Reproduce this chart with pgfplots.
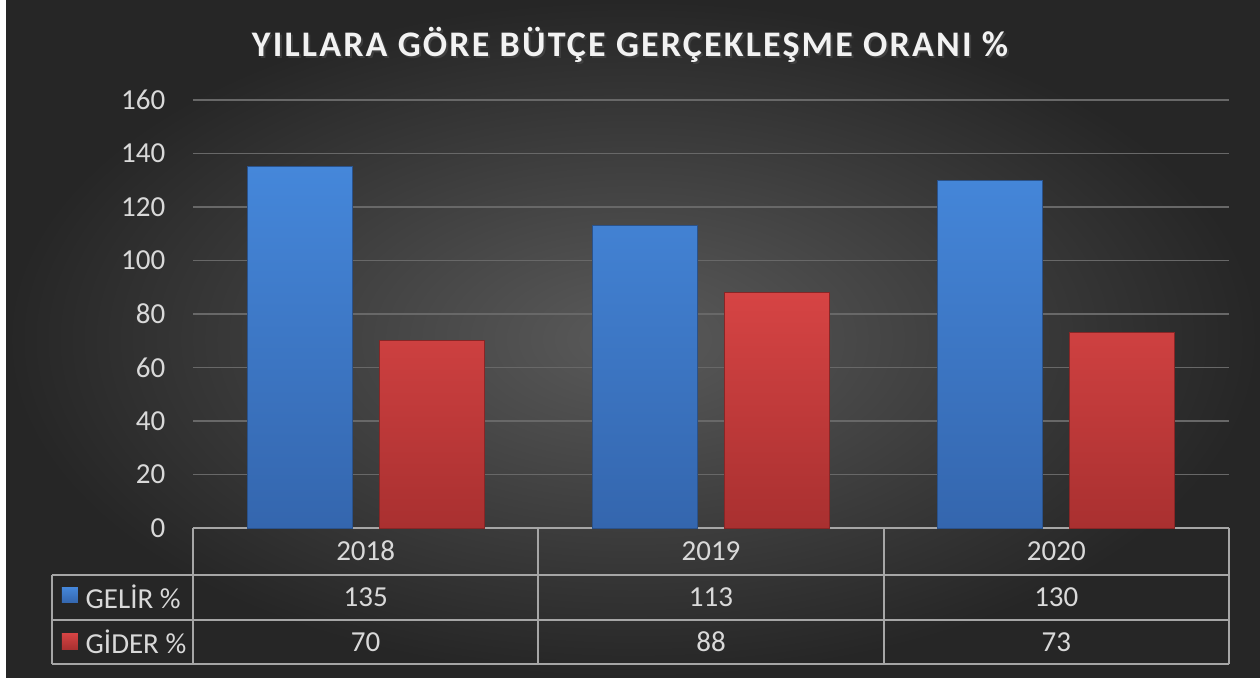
\documentclass[border=0pt]{standalone}
\usepackage{fontspec}
\setmainfont{Carlito}
\usepackage{pgfplots}
\pgfplotsset{compat=1.18}
\definecolor{bgin}{HTML}{5A5A5A}
\definecolor{bgout}{HTML}{262626}
\definecolor{gridc}{HTML}{686868}
\definecolor{txt}{HTML}{D9D9D9}
\definecolor{tline}{HTML}{A6A6A6}
\definecolor{blueT}{HTML}{4587DA}
\definecolor{blueB}{HTML}{3466AE}
\definecolor{redT}{HTML}{D64444}
\definecolor{redB}{HTML}{A93030}
\begin{document}
\begin{tikzpicture}
\useasboundingbox (0pt,0pt) rectangle (630pt,340pt);
\fill[white] (0pt,0pt) rectangle (630pt,340pt);
\shade[inner color=bgin, outer color=bgout] (3pt,1pt) rectangle (630pt,340pt);
\begin{axis}[
  at={(96.5pt,76pt)}, anchor=south west,
  scale only axis, width=518pt, height=214pt,
  xmin=-0.5, xmax=2.5, ymin=0, ymax=160,
  ytick={0,20,...,160},
  xtick=\empty,
  axis x line*=bottom, axis y line*=left,
  y axis line style={draw=none},
  ymajorgrids, grid style={gridc, line width=0.8pt},
  ybar=13.5pt, bar width=52.5pt,
  yticklabel style={font=\fontsize{14.5}{16}\selectfont, text=txt, xshift=-10.3pt},
  /pgf/number format/assume math mode=true,
  clip=false,
  x axis line style={tline, line width=1pt, -},
  major tick length=0pt,
]
\addplot[draw=blueB!80!black, line width=0.4pt, top color=blueT, bottom color=blueB] coordinates {(0,135) (1,113) (2,130)};
\addplot[draw=redB!80!black, line width=0.4pt, top color=redT, bottom color=redB] coordinates {(0,70) (1,88) (2,73)};
% data table
\draw[tline, line width=0.9pt] (axis cs:-0.909,-17.57) -- (axis cs:2.5,-17.57);
\draw[tline, line width=0.9pt] (axis cs:-0.909,-34.39) -- (axis cs:2.5,-34.39);
\draw[tline, line width=0.9pt] (axis cs:-0.909,-50.84) -- (axis cs:2.5,-50.84);
\draw[tline, line width=0.9pt] (axis cs:-0.909,-17.57) -- (axis cs:-0.909,-50.84);
\draw[tline, line width=0.9pt] (axis cs:-0.5,0) -- (axis cs:-0.5,-50.84);
\draw[tline, line width=0.9pt] (axis cs:0.5,0) -- (axis cs:0.5,-50.84);
\draw[tline, line width=0.9pt] (axis cs:1.5,0) -- (axis cs:1.5,-50.84);
\draw[tline, line width=0.9pt] (axis cs:2.5,0) -- (axis cs:2.5,-50.84);
\node[font=\fontsize{14.5}{16}\selectfont, text=txt] at (axis cs:0,-8.6) {2018};
\node[font=\fontsize{14.5}{16}\selectfont, text=txt] at (axis cs:1,-8.6) {2019};
\node[font=\fontsize{14.5}{16}\selectfont, text=txt] at (axis cs:2,-8.6) {2020};
\node[font=\fontsize{14.5}{16}\selectfont, text=txt] at (axis cs:0,-25.8) {135};
\node[font=\fontsize{14.5}{16}\selectfont, text=txt] at (axis cs:1,-25.8) {113};
\node[font=\fontsize{14.5}{16}\selectfont, text=txt] at (axis cs:2,-25.8) {130};
\node[font=\fontsize{14.5}{16}\selectfont, text=txt] at (axis cs:0,-42.6) {70};
\node[font=\fontsize{14.5}{16}\selectfont, text=txt] at (axis cs:1,-42.6) {88};
\node[font=\fontsize{14.5}{16}\selectfont, text=txt] at (axis cs:2,-42.6) {73};
\node[font=\fontsize{14.5}{16}\selectfont, text=txt, anchor=west, inner sep=0pt] at (axis cs:-0.812,-25.8) {GELİR \%};
\node[font=\fontsize{14.5}{16}\selectfont, text=txt, anchor=west, inner sep=0pt] at (axis cs:-0.812,-42.6) {GİDER \%};
\fill[top color=blueT, bottom color=blueB] (axis cs:-0.8797,-22.1) rectangle (axis cs:-0.8333,-28.0);
\fill[top color=redT, bottom color=redB] (axis cs:-0.8797,-39.3) rectangle (axis cs:-0.8333,-45.4);
\end{axis}
\node[font=\fontsize{18}{21}\selectfont\bfseries\addfontfeature{LetterSpace=6}, text=black!70, opacity=0.6] at (316pt,316.5pt) {YILLARA GÖRE BÜTÇE GERÇEKLEŞME ORANI \%};
\node[font=\fontsize{18}{21}\selectfont\bfseries\addfontfeature{LetterSpace=6}, text=white!95!black] at (315pt,317.5pt) {YILLARA GÖRE BÜTÇE GERÇEKLEŞME ORANI \%};
\end{tikzpicture}
\end{document}
